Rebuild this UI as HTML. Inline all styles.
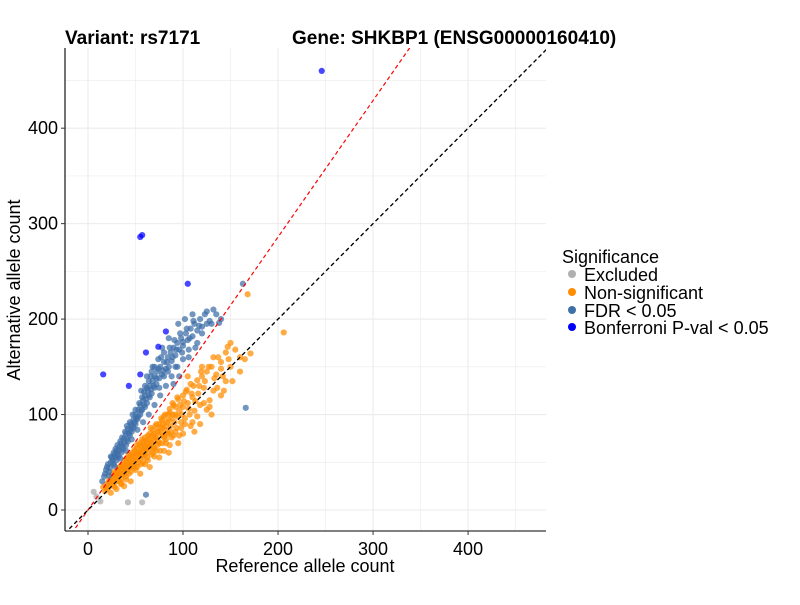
<!DOCTYPE html>
<html><head><meta charset="utf-8"><style>
body{margin:0;background:#fff;width:800px;height:600px;overflow:hidden;font-family:"Liberation Sans",sans-serif}
</style></head><body>
<svg id="chart" width="800" height="600" xmlns="http://www.w3.org/2000/svg" font-family="Liberation Sans, sans-serif">
<text x="65" y="44" font-size="19" font-weight="bold">Variant: rs7171</text>
<text x="292" y="44" font-size="19" font-weight="bold">Gene: SHKBP1 (ENSG00000160410)</text>
<g id="grid"></g>
<g id="lines"></g>
<g id="pts"></g>
<g id="axes"></g>
<text x="305" y="572" font-size="18" text-anchor="middle">Reference allele count</text>
<text transform="translate(20,290) rotate(-90)" font-size="18" text-anchor="middle">Alternative allele count</text>
<g font-size="18">
<text x="562" y="263">Significance</text>
<circle cx="572" cy="274" r="4" fill="#b0b0b0"/>
<text x="584" y="281">Excluded</text>
<circle cx="572" cy="292" r="4" fill="#ff8c00"/>
<text x="584" y="299">Non-significant</text>
<circle cx="572" cy="310" r="4" fill="#4070a8"/>
<text x="584" y="317">FDR &lt; 0.05</text>
<circle cx="572" cy="327" r="4" fill="#0000ff"/>
<text x="584" y="334">Bonferroni P-val &lt; 0.05</text>
</g>
</svg>
<script>
const xTicks=[0,100,200,300,400];
const yTicks=[0,100,200,300,400];
const redSlope=1.43;
const excluded=[[6,19],[13,9],[42,8],[57,8],[9,14]];
const nonSig=[[20,22],[22,30],[25,28],[25,35],[28,33],[28,40],[30,30],[30,38],[32,36],[32,44],[34,40],[35,33],[35,47],[36,42],[38,45],[38,38],[40,50],[40,42],[40,35],[42,48],[42,55],[44,46],[44,52],[45,40],[46,58],[47,50],[48,44],[48,56],[50,62],[50,52],[50,46],[52,58],[52,65],[53,50],[54,60],[55,68],[55,54],[56,48],[57,62],[58,72],[58,56],[60,66],[60,58],[60,76],[62,70],[62,60],[63,52],[64,74],[65,64],[65,80],[66,68],[67,58],[68,78],[68,84],[70,72],[70,64],[71,88],[72,76],[73,68],[74,82],[75,90],[75,70],[76,62],[77,80],[78,94],[78,86],[80,76],[80,98],[81,84],[82,70],[83,92],[84,100],[85,80],[86,106],[87,88],[88,96],[90,78],[90,110],[92,100],[93,86],[95,116],[96,104],[98,92],[100,120],[100,108],[102,96],[104,126],[105,112],[107,100],[108,132],[110,118],[112,104],[115,136],[116,122],[118,110],[120,140],[122,128],[125,145],[128,115],[130,150],[132,125],[135,142],[140,155],[145,135],[150,150],[118,90],[130,100],[100,80],[95,70],[85,60],[75,55],[65,45],[55,38],[45,30],[38,25],[30,22],[110,92],[140,120],[160,160],[165,158],[168,226],[147,171],[171,164],[206,186],[125,105],[112,82],[140,148],[132,160],[150,175],[120,150],[145,165],[105,140],[35,28],[27,26],[18,20],[22,24],[24,18],[33,30],[43,38],[52,45],[62,55],[72,62],[82,74],[92,82],[102,90],[58,50],[68,60],[78,70],[88,76],[98,86],
[16,24],[19,26],[21,28],[23,32],[26,31],[26,38],[29,36],[31,34],[31,41],[33,38],[34,45],[36,37],[37,48],[39,41],[39,52],[41,46],[41,53],[43,44],[43,58],[45,50],[45,56],[47,46],[47,60],[49,52],[49,63],[51,56],[51,68],[53,60],[54,70],[56,58],[56,65],[57,74],[59,62],[59,68],[61,72],[61,64],[63,78],[64,66],[66,74],[66,86],[67,70],[69,80],[69,66],[71,76],[72,90],[73,82],[74,72],[76,86],[77,96],[79,78],[79,90],[81,100],[82,88],[83,80],[85,94],[86,102],[87,82],[89,100],[89,112],[91,92],[92,108],[94,98],[94,118],[97,110],[99,100],[101,114],[103,124],[106,106],[109,122],[111,130],[113,114],[117,130],[119,145],[123,135],[127,150],[133,138],[137,160],[142,140],[148,158],[155,168],[160,145],[108,88],[115,98],[122,112],[128,108],[136,128],[143,125],[152,135],[96,78],[86,68],[80,62],[70,56],[60,48],[50,42],[40,32],[35,27],[28,24]];
const fdr=[[15,30],[18,38],[20,45],[22,40],[24,50],[25,55],[27,48],[28,58],[30,52],[30,62],[32,56],[33,66],[35,60],[35,70],[37,64],[38,75],[40,68],[40,80],[42,72],[42,85],[44,78],[45,90],[46,82],[48,95],[48,86],[50,90],[50,100],[52,95],[53,105],[55,100],[55,110],[57,105],[58,115],[60,108],[60,120],[62,112],[63,125],[65,118],[65,130],[67,122],[68,135],[70,128],[70,140],[72,132],[73,145],[75,138],[76,150],[78,142],[80,155],[82,148],[84,160],[85,150],[87,165],[88,156],[90,170],[92,162],[94,175],[96,168],[98,180],[100,172],[103,185],[105,178],[108,190],[110,182],[112,195],[115,188],[118,200],[120,192],[123,205],[125,208],[128,198],[130,195],[135,205],[140,200],[163,237],[166,107],[61,16],[58,92],[52,84],[46,74],[40,62],[34,54],[28,46],[22,36],[64,100],[70,110],[76,120],[82,130],[88,140],[94,150],[100,158],[106,168],[60,130],[66,140],[74,158],[78,170],[85,180],[95,195],[102,200],[110,205],[115,175],[120,185],[96,140],[90,132],
[17,35],[19,42],[21,48],[23,44],[24,56],[26,52],[27,60],[29,55],[29,64],[31,58],[31,68],[33,62],[34,72],[36,66],[36,76],[38,70],[39,82],[41,74],[41,88],[43,80],[44,92],[45,84],[47,88],[47,100],[49,92],[50,105],[51,96],[53,98],[54,112],[56,104],[57,118],[59,110],[59,124],[61,116],[62,128],[64,120],[64,135],[66,126],[67,145],[69,130],[70,150],[72,138],[74,148],[75,128],[77,160],[79,146],[80,165],[83,155],[86,170],[89,160],[91,178],[93,168],[97,185],[99,165],[104,190],[107,180],[111,198],[117,193],[125,195],[132,210],[138,196],[56,125],[62,140],[68,150],[80,140],[84,145],[92,150],[100,176],[106,160],[113,170]];
const bonf=[[246,460],[57,288],[55,286],[105,237],[82,187],[61,165],[74,171],[16,142],[55,142],[43,130]];

const L=65,R=546,T=48,B=531;
const xMin=-24.2,xMax=482,yMin=-22,yMax=484;
function sx(v){return L+(v-xMin)/(xMax-xMin)*(R-L);}
function sy(v){return B-(v-yMin)/(yMax-yMin)*(B-T);}
const NS="http://www.w3.org/2000/svg";
function mk(tag,attrs,parent){const e=document.createElementNS(NS,tag);for(const k in attrs)e.setAttribute(k,attrs[k]);parent.appendChild(e);return e;}
const grid=document.getElementById('grid');
for(let v=0;v<=450;v+=50){
  const major=v%100===0;
  const gx=mk('line',{x1:sx(v),x2:sx(v),y1:T,y2:B,stroke:'#ebebeb','stroke-width':major?1.1:0.6},grid);
  
  
  const gy=mk('line',{x1:L,x2:R,y1:sy(v),y2:sy(v),stroke:'#ebebeb','stroke-width':major?1.1:0.6},grid);
  
  
}
const lines=document.getElementById('lines');
const defs=mk('defs',{},document.getElementById('chart'));
const cp=mk('clipPath',{id:'clip'},defs);mk('rect',{x:L,y:T,width:R-L,height:B-T},cp);
lines.setAttribute('clip-path','url(#clip)');
const dl=mk('line',{x1:sx(-30),y1:sy(-30),x2:sx(500),y2:sy(500),stroke:'#000','stroke-width':1.2,'stroke-dasharray':'4,3'},lines);


const pts=document.getElementById('pts');
function draw(arr,col,name){arr.forEach(p=>{const c=mk('circle',{cx:sx(p[0]),cy:sy(p[1]),r:3.1,fill:col,'fill-opacity':0.72},pts);

});}
draw(excluded,'#a8a8a8','point-excluded');
draw(nonSig,'#ff8c00','point-nonsig');
draw(fdr,'#3c6ea8','point-fdr');
draw(bonf,'#0000ff','point-bonferroni');
const rl=mk('line',{x1:sx(-30),y1:sy(-30*redSlope),x2:sx(500/redSlope),y2:sy(500),stroke:'#ff0000','stroke-width':1.2,'stroke-dasharray':'4,3','clip-path':'url(#clip)'},pts);


const dl2=mk('line',{x1:sx(-30),y1:sy(-30),x2:sx(500),y2:sy(500),stroke:'#000','stroke-width':1.2,'stroke-dasharray':'4,3','clip-path':'url(#clip)'},pts);


const axes=document.getElementById('axes');
mk('line',{x1:L,x2:L,y1:T,y2:B,stroke:'#000','stroke-width':1.1},axes);
mk('line',{x1:L,x2:R,y1:B,y2:B,stroke:'#000','stroke-width':1.1},axes);
xTicks.forEach(v=>{mk('line',{x1:sx(v),x2:sx(v),y1:B,y2:B+4,stroke:'#333'},axes);
const t=mk('text',{x:sx(v),y:B+24,'font-size':18,'text-anchor':'middle',fill:'#000'},axes);t.textContent=v;

});
yTicks.forEach(v=>{mk('line',{x1:L-4,x2:L,y1:sy(v),y2:sy(v),stroke:'#333'},axes);
const t=mk('text',{x:L-7,y:sy(v)+6,'font-size':18,'text-anchor':'end',fill:'#000'},axes);t.textContent=v;

});
</script>
</body></html>
